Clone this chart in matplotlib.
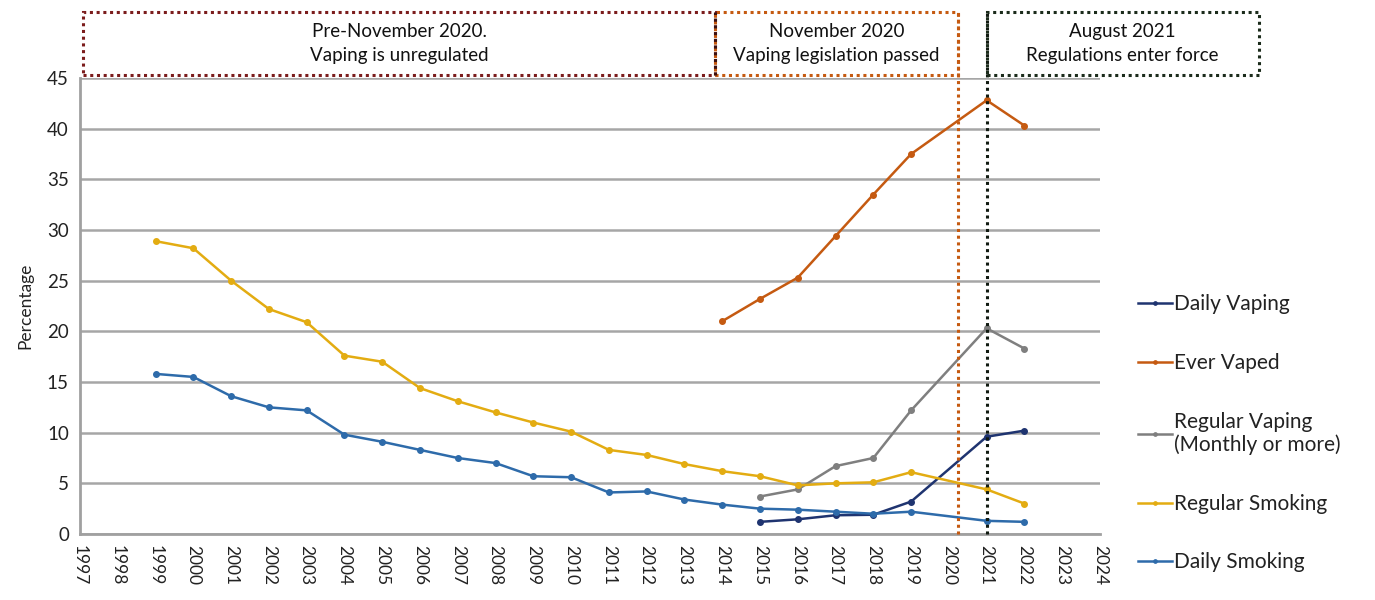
import matplotlib
matplotlib.use("Agg")
import matplotlib.pyplot as plt
from matplotlib.patches import Rectangle
import matplotlib.transforms as mtransforms
import numpy as np

plt.rcParams['font.family'] = ['Lato', 'DejaVu Sans']

years = list(range(1999, 2023))
# None = no survey value (2020)
daily_smoking = [15.8, 15.5, 13.6, 12.5, 12.2, 9.8, 9.1, 8.3, 7.5, 7.0, 5.7, 5.6,
                 4.1, 4.2, 3.4, 2.9, 2.5, 2.4, 2.2, 2.0, 2.2, None, 1.3, 1.2]
regular_smoking = [28.9, 28.2, 25.0, 22.2, 20.9, 17.6, 17.0, 14.4, 13.1, 12.0, 11.0, 10.1,
                   8.3, 7.8, 6.9, 6.2, 5.7, 4.8, 5.0, 5.1, 6.1, None, 4.4, 3.0]
ever_vaped = [None] * 15 + [21.0, 23.2, 25.3, 29.4, 33.5, 37.5, None, 42.8, 40.3]
regular_vaping = [None] * 16 + [3.7, 4.4, 6.7, 7.5, 12.2, None, 20.3, 18.3]
daily_vaping = [None] * 16 + [1.2, 1.45, 1.85, 1.9, 3.2, None, 9.6, 10.2]

series = [
    ("Daily Vaping", daily_vaping, "#1F3470"),
    ("Ever Vaped", ever_vaped, "#C55A11"),
    ("Regular Vaping\n(Monthly or more)", regular_vaping, "#7F7F7F"),
    ("Regular Smoking", regular_smoking, "#E3AC12"),
    ("Daily Smoking", daily_smoking, "#2E6BAA"),
]

x_ticks = list(range(1997, 2025))
y_ticks = list(range(0, 50, 5))

fig = plt.figure(figsize=(13.75, 6), dpi=100)
ax = fig.add_axes([80/1375, 66/600, 1020/1375, 456/600])

draw_order = [4, 3, 2, 0, 1]
handles = {}
for i in draw_order:
    name, vals, col = series[i]
    xs = [y for y, v in zip(years, vals) if v is not None]
    ys = [v for v in vals if v is not None]
    h, = ax.plot(xs, ys, color=col, lw=1.8, marker='o', ms=4, zorder=3 + i * 0.1)
    handles[i] = h

ax.set_xlim(1997, 2024)
ax.set_ylim(0, 45)
ax.set_xticks(x_ticks)
ax.set_xticklabels([str(t) for t in x_ticks], rotation=-90, fontsize=12.5, color="#222222")
ax.set_yticks(y_ticks)
ax.set_yticklabels([str(t) for t in y_ticks], fontsize=13.5, color="#222222")
ax.tick_params(length=0, pad=8)
ax.grid(axis='y', color="#a6a6a6", lw=1.8, zorder=1)
ax.set_axisbelow(True)
for s in ['top', 'right']:
    ax.spines[s].set_visible(False)
for s in ['left', 'bottom']:
    ax.spines[s].set_color("#a0a0a0")
    ax.spines[s].set_linewidth(2)
ax.set_ylabel("Percentage", fontsize=12.5, color="#222222", labelpad=10)

# Legend
leg = ax.legend([handles[i] for i in range(5)], [series[i][0] for i in range(5)],
                loc='upper left', bbox_to_anchor=(1128/1375, 1 - 284/600),
                bbox_transform=fig.transFigure, frameon=False, fontsize=15,
                handlelength=1.6, handletextpad=0.1, labelspacing=1.85,
                borderpad=0.0, markerscale=0.6)
for t in leg.get_texts():
    t.set_color("#222222")

# Annotation boxes (x in data coords, y in axes coords)
trans = mtransforms.blended_transform_factory(ax.transData, ax.transAxes)
y0 = (534 - 75) / 456
y1 = (534 - 12) / 456
nov2020 = 2020.25
aug2021 = 2021.0
boxes = [
    (1997.08, 2013.81, "#7B1C1C", "Pre-November 2020.\nVaping is unregulated"),
    (2013.81, nov2020, "#C55A11", "November 2020\nVaping legislation passed"),
    (aug2021, 2028.2, "#1B2B1B", "August 2021\nRegulations enter force"),
]
for xa, xb, col, txt in boxes:
    r = Rectangle((xa, y0), xb - xa, y1 - y0, transform=trans, fill=False,
                  edgecolor=col, lw=2.2, ls=(0, (1, 1.2)), clip_on=False, zorder=5)
    ax.add_patch(r)
    ax.text((xa + xb) / 2, (y0 + y1) / 2, txt, transform=trans, ha='center', va='center',
            fontsize=13.5, color="#111111", linespacing=1.45)
# dark left edge of the November box
ax.plot([2013.81, 2013.81], [y0, y1], transform=trans, color="#3A1010", lw=2.2,
        ls=(0, (1, 1.2)), clip_on=False, zorder=6)

ax.plot([nov2020, nov2020], [0, y1], transform=trans, color="#C55A11", lw=2.2,
        ls=(0, (1, 1.2)), clip_on=False, zorder=4)
ax.plot([aug2021, aug2021], [0, y1], transform=trans, color="#111a11", lw=2.2,
        ls=(0, (1, 1.2)), clip_on=False, zorder=4)

fig.savefig("out.png", dpi=100, facecolor="white")
